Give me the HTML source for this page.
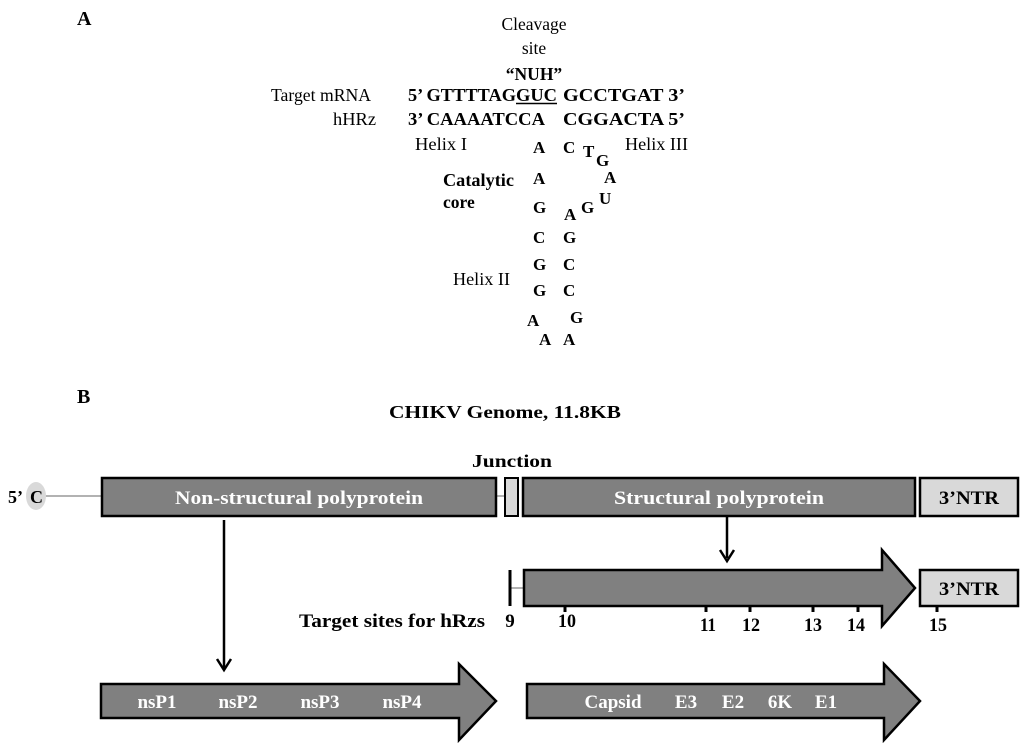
<!DOCTYPE html>
<html><head><meta charset="utf-8"><style>
html,body{margin:0;padding:0;background:#fff;}
svg{display:block;}
text{font-family:"Liberation Serif",serif;}
.b{font-weight:bold;}
.w{fill:#fff;font-weight:bold;}
</style></head><body>
<svg width="1024" height="743" viewBox="0 0 1024 743" xmlns="http://www.w3.org/2000/svg">
<text x="77" y="25" class="b" font-size="20">A</text>
<text x="534" y="30" font-size="17.5" text-anchor="middle">Cleavage</text>
<text x="534" y="54" font-size="17.5" text-anchor="middle">site</text>
<text x="534" y="80" font-size="17.5" class="b" text-anchor="middle">“NUH”</text>
<text x="271" y="101" font-size="17.5" textLength="100" lengthAdjust="spacingAndGlyphs">Target mRNA</text>
<text x="408" y="101" font-size="18" class="b" textLength="108" lengthAdjust="spacingAndGlyphs">5’ GTTTTAG</text>
<text x="516" y="101" font-size="18" class="b" textLength="41" lengthAdjust="spacingAndGlyphs">GUC</text>
<text x="563" y="101" font-size="18" class="b" textLength="122" lengthAdjust="spacingAndGlyphs">GCCTGAT 3’</text>
<line x1="516" y1="103.5" x2="557" y2="103.5" stroke="#000" stroke-width="1.5"/>
<text x="333" y="125" font-size="17.5" textLength="43" lengthAdjust="spacingAndGlyphs">hHRz</text>
<text x="408" y="125" font-size="18" class="b" textLength="137" lengthAdjust="spacingAndGlyphs">3’ CAAAATCCA</text>
<text x="563" y="125" font-size="18" class="b" textLength="122" lengthAdjust="spacingAndGlyphs">CGGACTA 5’</text>
<text x="415" y="150" font-size="17.5" textLength="52" lengthAdjust="spacingAndGlyphs">Helix I</text>
<text x="625" y="150" font-size="17.5" textLength="63" lengthAdjust="spacingAndGlyphs">Helix III</text>
<text x="443" y="186" font-size="17.5" class="b" textLength="71" lengthAdjust="spacingAndGlyphs">Catalytic</text>
<text x="443" y="208" font-size="17.5" class="b">core</text>
<text x="453" y="285" font-size="17.5" textLength="57" lengthAdjust="spacingAndGlyphs">Helix II</text>
<g class="b" font-size="17" font-weight="bold">
<text x="533" y="153">A</text><text x="563" y="153">C</text><text x="583" y="157">T</text><text x="596" y="166">G</text>
<text x="533" y="184">A</text><text x="604" y="183">A</text>
<text x="533" y="213">G</text><text x="564" y="220">A</text><text x="581" y="213">G</text><text x="599" y="204">U</text>
<text x="533" y="243">C</text><text x="563" y="243">G</text>
<text x="533" y="270">G</text><text x="563" y="270">C</text>
<text x="533" y="296">G</text><text x="563" y="296">C</text>
<text x="527" y="326">A</text><text x="570" y="323">G</text>
<text x="539" y="345">A</text><text x="563" y="345">A</text>
</g>
<text x="77" y="403" class="b" font-size="20">B</text>
<text x="505" y="418" class="b" font-size="18" text-anchor="middle" textLength="232" lengthAdjust="spacingAndGlyphs">CHIKV Genome, 11.8KB</text>
<text x="512" y="467" class="b" font-size="18" text-anchor="middle" textLength="80" lengthAdjust="spacingAndGlyphs">Junction</text>
<!-- top row -->
<line x1="45" y1="496" x2="101" y2="496" stroke="#999" stroke-width="1.5"/>
<line x1="496" y1="496" x2="505" y2="496" stroke="#999" stroke-width="1.5"/>
<ellipse cx="36" cy="496" rx="10" ry="14" fill="#d9d9d9"/>
<text x="8" y="503" class="b" font-size="18">5’</text>
<text x="30" y="503" class="b" font-size="18">C</text>
<rect x="102" y="478" width="394" height="38" fill="#808080" stroke="#000" stroke-width="2.5"/>
<text x="299" y="504" class="w" font-size="19" text-anchor="middle" textLength="248" lengthAdjust="spacingAndGlyphs">Non-structural polyprotein</text>
<rect x="505" y="478" width="13" height="38" fill="#d9d9d9" stroke="#000" stroke-width="2"/>
<rect x="523" y="478" width="392" height="38" fill="#808080" stroke="#000" stroke-width="2.5"/>
<text x="719" y="504" class="w" font-size="19" text-anchor="middle" textLength="210" lengthAdjust="spacingAndGlyphs">Structural polyprotein</text>
<rect x="920" y="478" width="98" height="38" fill="#d9d9d9" stroke="#000" stroke-width="2.5"/>
<text x="969" y="504" class="b" font-size="19" text-anchor="middle" textLength="60" lengthAdjust="spacingAndGlyphs">3’NTR</text>
<!-- arrows down -->
<line x1="727" y1="517" x2="727" y2="558" stroke="#000" stroke-width="2.5"/>
<polyline points="720,550 727,561 734,550" fill="none" stroke="#000" stroke-width="2.5"/>
<line x1="224" y1="520" x2="224" y2="668" stroke="#000" stroke-width="2.5"/>
<polyline points="217,659 224,670 231,659" fill="none" stroke="#000" stroke-width="2.5"/>
<!-- middle row -->
<line x1="510" y1="588" x2="523" y2="588" stroke="#999" stroke-width="1.5"/>
<line x1="510" y1="570" x2="510" y2="606" stroke="#000" stroke-width="3"/>
<polygon points="524,570 882,570 882,550 915,588 882,626 882,606 524,606" fill="#808080" stroke="#000" stroke-width="2.5"/>
<rect x="920" y="570" width="98" height="36" fill="#d9d9d9" stroke="#000" stroke-width="2.5"/>
<text x="969" y="595" class="b" font-size="19" text-anchor="middle" textLength="60" lengthAdjust="spacingAndGlyphs">3’NTR</text>
<g stroke="#000" stroke-width="3">
<line x1="565" y1="606" x2="565" y2="612"/><line x1="706" y1="606" x2="706" y2="612"/>
<line x1="750" y1="606" x2="750" y2="612"/><line x1="813" y1="606" x2="813" y2="612"/>
<line x1="858" y1="606" x2="858" y2="612"/><line x1="937" y1="606" x2="937" y2="612"/>
</g>
<g class="b" font-size="19" text-anchor="middle">
<text x="392" y="627" textLength="186" lengthAdjust="spacingAndGlyphs">Target sites for hRzs</text>
<text x="510" y="627">9</text><text x="567" y="627" textLength="18" lengthAdjust="spacingAndGlyphs">10</text><text x="708" y="631" textLength="16" lengthAdjust="spacingAndGlyphs">11</text>
<text x="751" y="631" textLength="18" lengthAdjust="spacingAndGlyphs">12</text><text x="813" y="631" textLength="18" lengthAdjust="spacingAndGlyphs">13</text><text x="856" y="631" textLength="18" lengthAdjust="spacingAndGlyphs">14</text><text x="938" y="631" textLength="18" lengthAdjust="spacingAndGlyphs">15</text>
</g>
<!-- bottom arrows -->
<polygon points="101,684 459,684 459,664 496,701 459,740 459,718 101,718" fill="#808080" stroke="#000" stroke-width="2.5"/>
<g class="w" font-size="19" text-anchor="middle">
<text x="157" y="708">nsP1</text><text x="238" y="708">nsP2</text><text x="320" y="708">nsP3</text><text x="402" y="708">nsP4</text>
</g>
<polygon points="527,684 884,684 884,664 920,701 884,740 884,718 527,718" fill="#808080" stroke="#000" stroke-width="2.5"/>
<g class="w" font-size="19" text-anchor="middle">
<text x="613" y="708">Capsid</text><text x="686" y="708">E3</text><text x="733" y="708">E2</text><text x="780" y="708">6K</text><text x="826" y="708">E1</text>
</g>
</svg>
</body></html>
